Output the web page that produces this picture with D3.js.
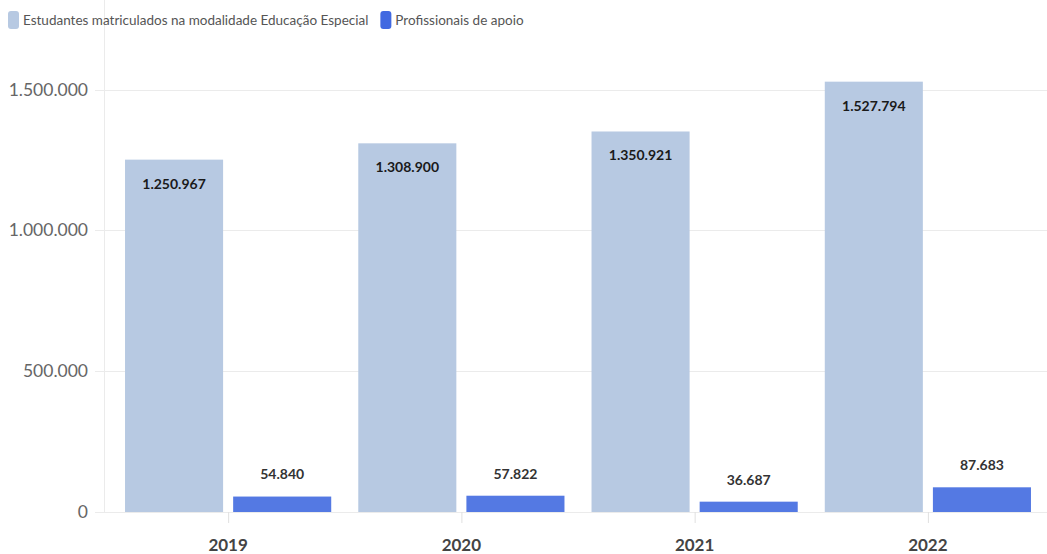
<!DOCTYPE html>
<html>
<head>
<meta charset="utf-8">
<script src="https://cdn.jsdelivr.net/npm/d3@7"></script>
<style>
  body { margin: 0; background: #fff; }
  svg { font-family: "Lato", "Noto Sans", sans-serif; }
</style>
</head>
<body>
<svg width="1047" height="554"></svg>
<script>
let years = ["2019", "2020", "2021", "2022"]
let seriesNames = ["Estudantes matriculados na modalidade Educação Especial", "Profissionais de apoio"]
let estudantes = [1250967, 1308900, 1350921, 1527794]
let profissionais = [54840, 57822, 36687, 87683]
let yTicks = [0, 500000, 1000000, 1500000]

let colors = ["#b7c9e2", "#5479e3"]
let legendColors = ["#b7c9e2", "#4169e1"]

let fmt = d3.formatLocale({ decimal: ",", thousands: ".", grouping: [3], currency: ["R$", ""] }).format(",")

let svg = d3.select("svg")

let x0 = d3.scaleBand()
    .domain(years)
    .range([111.5, 1044.5])
    .paddingInner(0.116)
    .paddingOuter(0.058)

let x1 = d3.scaleBand()
    .domain([0, 1])
    .range([0, x0.bandwidth()])
    .paddingInner(0.093)

let y = d3.scaleLinear()
    .domain([0, 1500000])
    .range([512, 89.5])

// gridlines
svg.append("g")
    .selectAll("line")
    .data(yTicks)
    .join("line")
    .attr("x1", 95)
    .attr("x2", 1047)
    .attr("y1", d => Math.round(y(d)) + 0.5)
    .attr("y2", d => Math.round(y(d)) + 0.5)
    .attr("stroke", "#ebebeb")
    .attr("stroke-width", 1)

// vertical axis line
svg.append("line")
    .attr("x1", 104.5).attr("x2", 104.5)
    .attr("y1", 0).attr("y2", 512)
    .attr("stroke", "#ebebeb")

// y labels
svg.append("g")
    .selectAll("text")
    .data(yTicks)
    .join("text")
    .attr("x", 88)
    .attr("y", d => y(d))
    .attr("dy", "0.35em")
    .attr("text-anchor", "end")
    .attr("fill", "#666")
    .style("font-size", "17.5px")
    .text(d => fmt(d))

let data = years.map((yr, i) => ({ year: yr, values: [estudantes[i], profissionais[i]] }))

let groups = svg.append("g")
    .selectAll("g")
    .data(data)
    .join("g")
    .attr("transform", d => "translate(" + x0(d.year) + ",0)")

groups.selectAll("rect")
    .data(d => d.values.map((v, k) => ({ k: k, v: v })))
    .join("rect")
    .attr("x", d => x1(d.k))
    .attr("width", x1.bandwidth())
    .attr("y", d => y(d.v))
    .attr("height", d => y(0) - y(d.v))
    .attr("fill", d => colors[d.k])

groups.selectAll("text.val")
    .data(d => d.values.map((v, k) => ({ k: k, v: v })))
    .join("text")
    .attr("class", "val")
    .attr("x", d => x1(d.k) + x1.bandwidth() / 2)
    .attr("y", d => d.k === 0 ? y(d.v) + 24 : y(d.v) - 22)
    .attr("dy", "0.35em")
    .attr("text-anchor", "middle")
    .attr("fill", d => d.k === 0 ? "#1a1a1a" : "#333")
    .style("font-size", "14px")
    .style("font-weight", "bold")
    .text(d => fmt(d.v))

// x axis ticks and labels
let xg = svg.append("g")
xg.selectAll("line")
    .data(years)
    .join("line")
    .attr("x1", d => x0(d) + x0.bandwidth() / 2 + 0.5)
    .attr("x2", d => x0(d) + x0.bandwidth() / 2 + 0.5)
    .attr("y1", 512)
    .attr("y2", 523)
    .attr("stroke", "#e0e0e0")

xg.selectAll("text")
    .data(years)
    .join("text")
    .attr("x", d => x0(d) + x0.bandwidth() / 2)
    .attr("y", 551)
    .attr("text-anchor", "middle")
    .attr("fill", "#444")
    .style("font-size", "17px")
    .style("font-weight", "bold")
    .text(d => d)

// legend
let legend = svg.append("g")
    .attr("transform", "translate(8,11)")

let lx = 0
seriesNames.forEach((name, i) => {
    let item = legend.append("g").attr("transform", "translate(" + lx + ",0)")
    item.append("rect")
        .attr("width", 11)
        .attr("height", 18)
        .attr("rx", 3)
        .attr("fill", legendColors[i])
    let t = item.append("text")
        .attr("x", 15)
        .attr("y", 9)
        .attr("dy", "0.35em")
        .attr("fill", "#555")
        .style("font-size", "13.5px")
        .text(name)
    lx += 15 + t.node().getComputedTextLength() + 12
})
</script>
</body>
</html>
